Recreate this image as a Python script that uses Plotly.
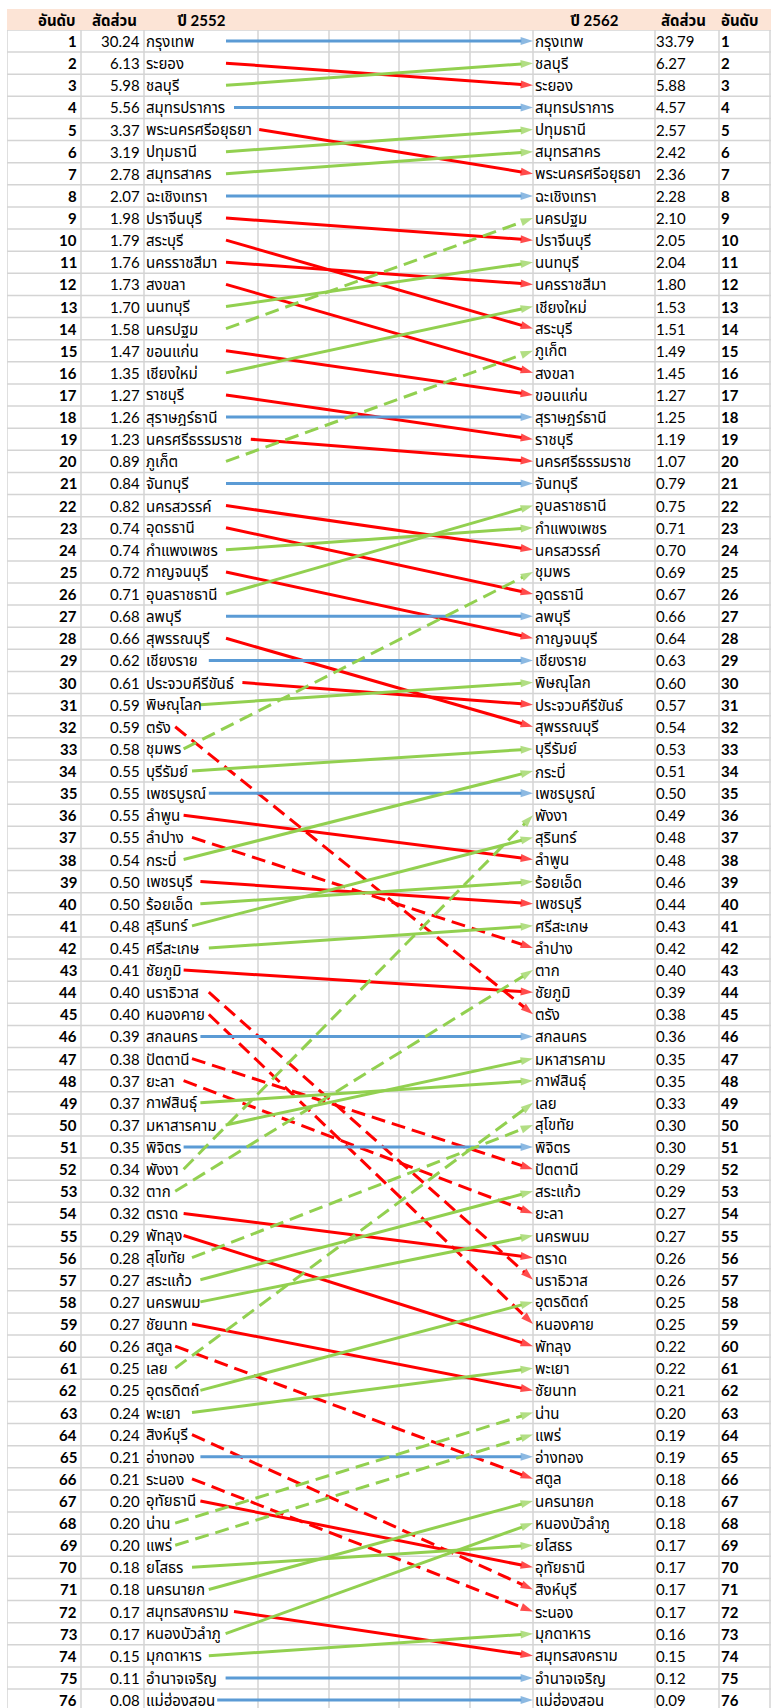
import plotly.graph_objects as go

# Provinces ranked by share in 2552 (top to bottom).
names_2552 = [
    'กรุงเทพ', 'ระยอง', 'ชลบุรี', 'สมุทรปราการ', 'พระนครศรีอยุธยา', 'ปทุมธานี',
    'สมุทรสาคร', 'ฉะเชิงเทรา', 'ปราจีนบุรี', 'สระบุรี', 'นครราชสีมา', 'สงขลา',
    'นนทบุรี', 'นครปฐม', 'ขอนแก่น', 'เชียงใหม่', 'ราชบุรี', 'สุราษฎร์ธานี',
    'นครศรีธรรมราช', 'ภูเก็ต', 'จันทบุรี', 'นครสวรรค์', 'อุดรธานี', 'กำแพงเพชร',
    'กาญจนบุรี', 'อุบลราชธานี', 'ลพบุรี', 'สุพรรณบุรี', 'เชียงราย', 'ประจวบคีรีขันธ์',
    'พิษณุโลก', 'ตรัง', 'ชุมพร', 'บุรีรัมย์', 'เพชรบูรณ์', 'ลำพูน',
    'ลำปาง', 'กระบี่', 'เพชรบุรี', 'ร้อยเอ็ด', 'สุรินทร์', 'ศรีสะเกษ',
    'ชัยภูมิ', 'นราธิวาส', 'หนองคาย', 'สกลนคร', 'ปัตตานี', 'ยะลา',
    'กาฬสินธุ์', 'มหาสารคาม', 'พิจิตร', 'พังงา', 'ตาก', 'ตราด',
    'พัทลุง', 'สุโขทัย', 'สระแก้ว', 'นครพนม', 'ชัยนาท', 'สตูล',
    'เลย', 'อุตรดิตถ์', 'พะเยา', 'สิงห์บุรี', 'อ่างทอง', 'ระนอง',
    'อุทัยธานี', 'น่าน', 'แพร่', 'ยโสธร', 'นครนายก', 'สมุทรสงคราม',
    'หนองบัวลำภู', 'มุกดาหาร', 'อำนาจเจริญ', 'แม่ฮ่องสอน',
]
share_2552 = [
    30.24, 6.13, 5.98, 5.56, 3.37, 3.19, 2.78, 2.07, 1.98, 1.79, 1.76, 1.73,
    1.70, 1.58, 1.47, 1.35, 1.27, 1.26, 1.23, 0.89, 0.84, 0.82, 0.74, 0.74,
    0.72, 0.71, 0.68, 0.66, 0.62, 0.61, 0.59, 0.59, 0.58, 0.55, 0.55, 0.55,
    0.55, 0.54, 0.50, 0.50, 0.48, 0.45, 0.41, 0.40, 0.40, 0.39, 0.38, 0.37,
    0.37, 0.37, 0.35, 0.34, 0.32, 0.32, 0.29, 0.28, 0.27, 0.27, 0.27, 0.26,
    0.25, 0.25, 0.24, 0.24, 0.21, 0.21, 0.20, 0.20, 0.20, 0.18, 0.18, 0.17,
    0.17, 0.15, 0.11, 0.08,
]

# Provinces ranked by share in 2562 (top to bottom).
names_2562 = [
    'กรุงเทพ', 'ชลบุรี', 'ระยอง', 'สมุทรปราการ', 'ปทุมธานี', 'สมุทรสาคร',
    'พระนครศรีอยุธยา', 'ฉะเชิงเทรา', 'นครปฐม', 'ปราจีนบุรี', 'นนทบุรี', 'นครราชสีมา',
    'เชียงใหม่', 'สระบุรี', 'ภูเก็ต', 'สงขลา', 'ขอนแก่น', 'สุราษฎร์ธานี',
    'ราชบุรี', 'นครศรีธรรมราช', 'จันทบุรี', 'อุบลราชธานี', 'กำแพงเพชร', 'นครสวรรค์',
    'ชุมพร', 'อุดรธานี', 'ลพบุรี', 'กาญจนบุรี', 'เชียงราย', 'พิษณุโลก',
    'ประจวบคีรีขันธ์', 'สุพรรณบุรี', 'บุรีรัมย์', 'กระบี่', 'เพชรบูรณ์', 'พังงา',
    'สุรินทร์', 'ลำพูน', 'ร้อยเอ็ด', 'เพชรบุรี', 'ศรีสะเกษ', 'ลำปาง',
    'ตาก', 'ชัยภูมิ', 'ตรัง', 'สกลนคร', 'มหาสารคาม', 'กาฬสินธุ์',
    'เลย', 'สุโขทัย', 'พิจิตร', 'ปัตตานี', 'สระแก้ว', 'ยะลา',
    'นครพนม', 'ตราด', 'นราธิวาส', 'อุตรดิตถ์', 'หนองคาย', 'พัทลุง',
    'พะเยา', 'ชัยนาท', 'น่าน', 'แพร่', 'อ่างทอง', 'สตูล',
    'นครนายก', 'หนองบัวลำภู', 'ยโสธร', 'อุทัยธานี', 'สิงห์บุรี', 'ระนอง',
    'มุกดาหาร', 'สมุทรสงคราม', 'อำนาจเจริญ', 'แม่ฮ่องสอน',
]
share_2562 = [
    33.79, 6.27, 5.88, 4.57, 2.57, 2.42, 2.36, 2.28, 2.10, 2.05, 2.04, 1.80,
    1.53, 1.51, 1.49, 1.45, 1.27, 1.25, 1.19, 1.07, 0.79, 0.75, 0.71, 0.70,
    0.69, 0.67, 0.66, 0.64, 0.63, 0.60, 0.57, 0.54, 0.53, 0.51, 0.50, 0.49,
    0.48, 0.48, 0.46, 0.44, 0.43, 0.42, 0.40, 0.39, 0.38, 0.36, 0.35, 0.35,
    0.33, 0.30, 0.30, 0.29, 0.29, 0.27, 0.27, 0.26, 0.26, 0.25, 0.25, 0.22,
    0.22, 0.21, 0.20, 0.19, 0.19, 0.18, 0.18, 0.18, 0.17, 0.17, 0.17, 0.17,
    0.16, 0.15, 0.12, 0.09,
]

# Connectors drawn with a dashed line.
dashed_names = [
    'นครปฐม', 'ภูเก็ต', 'ตรัง', 'ชุมพร', 'ลำปาง', 'นราธิวาส', 'หนองคาย', 'ปัตตานี',
    'ยะลา', 'พังงา', 'ตาก', 'สุโขทัย', 'สตูล', 'เลย', 'สิงห์บุรี', 'ระนอง', 'น่าน', 'แพร่',
]

header_left = ['อันดับ', 'สัดส่วน', 'ปี 2552']
header_right = ['ปี 2562', 'สัดส่วน', 'อันดับ']

# Sheet geometry (pixels).
W, H = 771, 1708
TOP = 30
HEADER_TOP = 9
LEFT = 7
ROW_H = 22.12
COL_LINES = [7, 81, 144, 258, 329, 399, 470, 533, 655, 719, 770]
X_RANK_L, X_SHARE_L, X_NAME_L = 78, 141, 145
X_NAME_R, X_SHARE_R, X_RANK_R = 534, 655, 720
X_ARROW_END = 533
# Upper connectors were drawn from a common left edge.
X_START_UPPER, UPPER_ROWS = 226, 28

BLUE, RED, GREEN = '#5B9BD5', '#FF0000', '#92D050'
GRID = '#D4D4D4'
FONT = "Lato, 'Noto Sans Thai', Tahoma, sans-serif"

n = len(names_2552)
y_bottom = 0.5 + (H - TOP) / ROW_H

# Thai marks above/below the line take no horizontal room.
MARKS = set(chr(c) for c in [0x0E31] + list(range(0x0E34, 0x0E3B)) + list(range(0x0E47, 0x0E4F)))


def text_width(s, per_char=8.4):
    return per_char * sum(ch not in MARKS for ch in s)


fig = go.Figure()

# Connectors from 2552 rank to 2562 rank.
for i, name in enumerate(names_2552):
    r0 = i + 1
    r1 = names_2562.index(name) + 1
    color = BLUE if r1 == r0 else (RED if r1 > r0 else GREEN)
    x0 = X_NAME_L + text_width(name) + 5
    if r0 <= UPPER_ROWS:
        x0 = max(x0, X_START_UPPER)
    fig.add_trace(go.Scatter(
        x=[x0, X_ARROW_END],
        y=[r0, r1],
        mode='lines+markers',
        line=dict(color=color, width=3,
                  dash='14px,7px' if name in dashed_names else 'solid'),
        marker=dict(symbol='arrow', size=[0, 13], angleref='previous',
                    color=color, line=dict(width=0)),
        hoverinfo='skip',
        showlegend=False,
    ))

shapes = []
# Header band.
shapes.append(dict(type='rect', xref='x', yref='paper', x0=LEFT, x1=W,
                   y0=1, y1=1 + (TOP - HEADER_TOP) / (H - TOP),
                   fillcolor='#FCE4D6', line=dict(width=0), layer='below'))
# Cell borders.
for k in range(n + 1):
    shapes.append(dict(type='line', xref='x', yref='y', x0=LEFT, x1=W,
                       y0=k + 0.5, y1=k + 0.5,
                       line=dict(color=GRID, width=1.5), layer='below'))
for xc in COL_LINES:
    shapes.append(dict(type='line', xref='x', yref='paper', x0=xc, x1=xc,
                       y0=0, y1=1, line=dict(color=GRID, width=1.5), layer='below'))

annotations = []
cell = dict(xref='x', yref='y', showarrow=False, yanchor='middle', borderpad=0,
            font=dict(family=FONT, size=15, color='#000000'))
bold = dict(cell, font=dict(family=FONT, size=15, color='#000000', weight='bold'))

for i in range(n):
    r = i + 1
    annotations.append(dict(bold, x=X_RANK_L, y=r, text=str(r), xanchor='right'))
    annotations.append(dict(cell, x=X_SHARE_L, y=r, text=f'{share_2552[i]:.2f}', xanchor='right'))
    annotations.append(dict(cell, x=X_NAME_L, y=r, text=names_2552[i], xanchor='left'))
    annotations.append(dict(cell, x=X_NAME_R, y=r, text=names_2562[i], xanchor='left'))
    annotations.append(dict(cell, x=X_SHARE_R, y=r, text=f'{share_2562[i]:.2f}', xanchor='left'))
    annotations.append(dict(bold, x=X_RANK_R, y=r, text=str(r), xanchor='left'))

# Header labels.
y_head = 1 + (TOP - (HEADER_TOP + TOP) / 2) / (H - TOP)
head = dict(bold, yref='paper', y=y_head)
annotations.append(dict(head, x=77, text=header_left[0], xanchor='right'))
annotations.append(dict(head, x=138, text=header_left[1], xanchor='right'))
annotations.append(dict(head, x=(144 + 258) / 2, text=header_left[2], xanchor='center'))
annotations.append(dict(head, x=(533 + 655) / 2, text=header_right[0], xanchor='center'))
annotations.append(dict(head, x=660, text=header_right[1], xanchor='left'))
annotations.append(dict(head, x=720, text=header_right[2], xanchor='left'))

fig.update_layout(
    width=W,
    height=H,
    margin=dict(l=LEFT, r=0, t=TOP, b=0, pad=0),
    plot_bgcolor='white',
    paper_bgcolor='white',
    font=dict(family=FONT, size=15, color='#000000'),
    xaxis=dict(range=[LEFT, W], visible=False, fixedrange=True),
    yaxis=dict(range=[y_bottom, 0.5], visible=False, fixedrange=True),
    shapes=shapes,
    annotations=annotations,
    showlegend=False,
)

fig.write_html('out.html', config={'displayModeBar': False},
               post_script="document.body.style.margin='0';")
